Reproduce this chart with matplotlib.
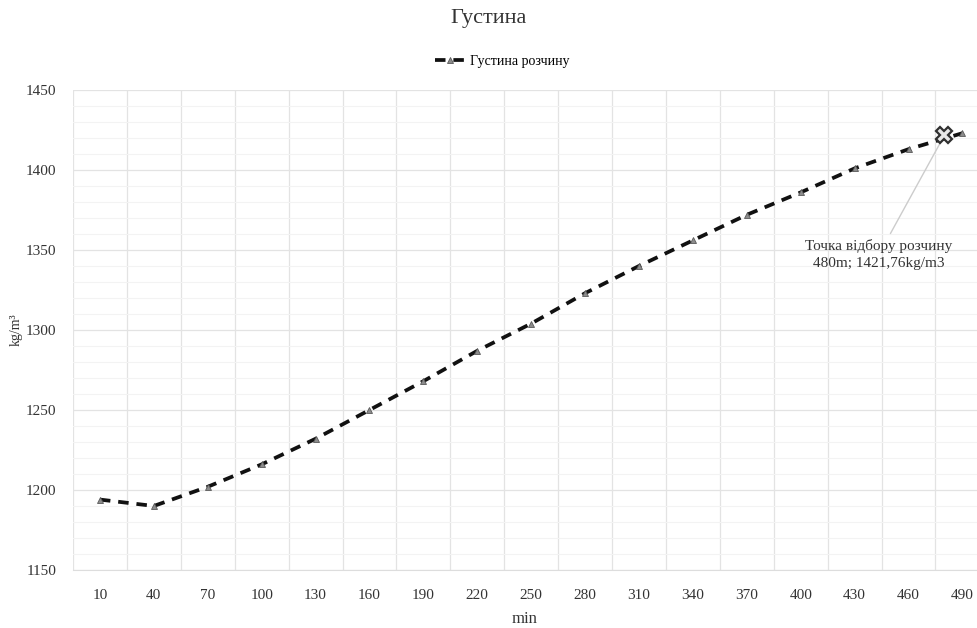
import matplotlib.pyplot as plt
from matplotlib.ticker import MultipleLocator

plt.rcParams['font.family'] = ['Liberation Serif', 'DejaVu Serif']

minutes = [10, 40, 70, 100, 130, 160, 190, 220, 250, 280, 310, 340, 370, 400, 430, 460, 490]
density = [1194, 1190, 1202, 1216, 1232, 1250, 1268, 1287, 1304, 1323, 1340, 1356, 1372, 1386, 1401, 1413, 1423]
sample_min = 480
sample_density = 1421.76

pos = list(range(len(minutes)))
sample_pos = (sample_min - minutes[0]) / (minutes[1] - minutes[0])

fig = plt.figure(figsize=(9.77, 6.28), dpi=100)
ax = fig.add_axes([0.0747, 0.0924, 0.9253, 0.7643])

ax.plot(pos, density, color='#111111', lw=2.7, ls=(0, (2.8, 2.1)),
        dash_capstyle='butt', marker='^', ms=5, mfc='#8c8c8c',
        mec='#595959', mew=0.6, label='Густина розчину', zorder=3)
ax.plot([sample_pos], [sample_density], marker='X', ms=12, mfc='#e8e8e8',
        mec='#303030', mew=1.6, ls='none', zorder=4)

ax.annotate('Точка відбору розчину\n480m; 1421,76kg/m3',
            xy=(sample_pos, sample_density), xytext=(14.45, 1357),
            ha='center', va='top', fontsize=11, linespacing=1.45,
            color='#333333',
            arrowprops=dict(arrowstyle='-', color='#cccccc', lw=1,
                            shrinkA=2, shrinkB=6))

ax.set_xlim(-0.5, 16.27)
ax.set_ylim(1150, 1450)
ax.set_xticks(pos)
ax.set_xticklabels([str(m) for m in minutes])
ax.set_xticks([p + 0.5 for p in pos[:-1]] + [-0.5], minor=True)
ax.yaxis.set_major_locator(MultipleLocator(50))
ax.yaxis.set_minor_locator(MultipleLocator(10))

ax.grid(which='minor', axis='y', color='#f3f3f3', lw=0.8)
ax.grid(which='major', axis='y', color='#e3e3e3', lw=0.9)
ax.grid(which='minor', axis='x', color='#e3e3e3', lw=0.9)
ax.set_axisbelow(True)

for side in ['top', 'right', 'left']:
    ax.spines[side].set_visible(False)
ax.spines['bottom'].set_color('#dddddd')
ax.tick_params(which='both', length=0, labelsize=11, colors='#333333')
ax.tick_params(axis='x', pad=14)
ax.tick_params(axis='y', pad=12)

ax.set_xlabel('min', fontsize=12, color='#333333', labelpad=6)
ax.set_ylabel('kg/m³', fontsize=10, color='#333333', labelpad=2)
fig.suptitle('Густина', fontsize=16, color='#333333', y=0.985)
ax.legend(loc='lower center', bbox_to_anchor=(0.475, 1.02), frameon=False,
          fontsize=10, handlelength=2.2, handletextpad=0.3)

fig.savefig('out.png', dpi=100)
